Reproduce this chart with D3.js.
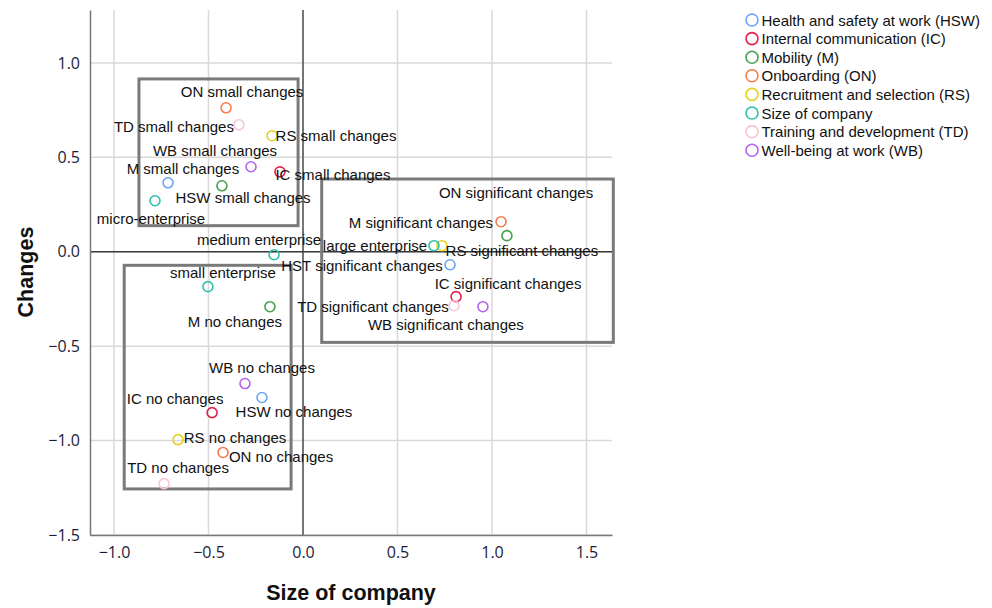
<!DOCTYPE html>
<html lang="en">
<head>
<meta charset="UTF-8">
<title>Size of company vs Changes</title>
<script src="https://d3js.org/d3.v7.min.js"></script>
<style>
  body { margin: 0; background: #fff; }
</style>
</head>
<body>
<svg id="chart"></svg>
<script>
// groups (legend order)
var groups = ["Health and safety at work (HSW)", "Internal communication (IC)", "Mobility (M)",
  "Onboarding (ON)", "Recruitment and selection (RS)", "Size of company",
  "Training and development (TD)", "Well-being at work (WB)"];
var groupColors = ["#6aa5f2", "#e4224c", "#45a04e", "#f47c4a", "#e6d21c", "#2dc0ad", "#f8c4da", "#b562f2"];

// points
var pointNames = [
  "HSW small changes", "HST significant changes", "HSW no changes",
  "IC small changes", "IC significant changes", "IC no changes",
  "M small changes", "M significant changes", "M no changes",
  "ON small changes", "ON significant changes", "ON no changes",
  "RS small changes", "RS significant changes", "RS no changes",
  "micro-enterprise", "small enterprise", "medium enterprise", "large enterprise",
  "TD small changes", "TD significant changes", "TD no changes",
  "WB small changes", "WB significant changes", "WB no changes"
];
var pointGroup = [0, 0, 0, 1, 1, 1, 2, 2, 2, 3, 3, 3, 4, 4, 4, 5, 5, 5, 5, 6, 6, 6, 7, 7, 7];
var sizeValues = [
  -0.714, 0.778, -0.217,
  -0.122, 0.810, -0.481,
  -0.429, 1.079, -0.175,
  -0.407, 1.048, -0.423,
  -0.164, 0.735, -0.661,
  -0.783, -0.503, -0.153, 0.693,
  -0.339, 0.799, -0.735,
  -0.275, 0.952, -0.307
];
var changeValues = [
  0.365, -0.069, -0.772,
  0.423, -0.238, -0.852,
  0.349, 0.085, -0.291,
  0.762, 0.159, -1.063,
  0.614, 0.032, -0.995,
  0.270, -0.185, -0.016, 0.032,
  0.672, -0.286, -1.228,
  0.450, -0.291, -0.698
];
// label offsets from the point (px), label centred
var labelDx = [75, -88, 32, 53, 52, -37, -39, -86, -35, 16, 15, 58, 64, 80, 57, -4, 15, -15, -59, -65, -81, 14, -36, -37, 17];
var labelDy = [15, 1, 14, 3, -13, -14, -17, -13, 15, -16, -29, 4, 0, 5, -2, 18, -14, -15, 0, 2, 1, -16, -16, 18, -16];

// annotation boxes [x1, x2, y1, y2] in data units
var boxes = [
  [-0.868, -0.026, 0.915, 0.138],
  [0.099, 1.642, 0.385, -0.480],
  [-0.946, -0.063, -0.072, -1.256]
];

var xTicks = [-1.0, -0.5, 0.0, 0.5, 1.0, 1.5];
var yTicks = [-1.5, -1.0, -0.5, 0.0, 0.5, 1.0];

var W = 992, H = 608;
var svg = d3.select("#chart").attr("width", W).attr("height", H);

var x = d3.scaleLinear().domain([-1.127, 1.635]).range([90, 612]);
var y = d3.scaleLinear().domain([-1.5, 1.28]).range([535, 10]);

var fmt = function (v) { return d3.format(".1f")(v).replace("-", "\u2212"); };

// grid
svg.append("g").selectAll("line").data(xTicks).enter().append("line")
  .attr("x1", function (d) { return x(d); }).attr("x2", function (d) { return x(d); })
  .attr("y1", y.range()[1]).attr("y2", y.range()[0])
  .attr("stroke", "#d9d9d9").attr("stroke-width", 1.5);
svg.append("g").selectAll("line").data(yTicks).enter().append("line")
  .attr("x1", x.range()[0]).attr("x2", x.range()[1])
  .attr("y1", function (d) { return y(d); }).attr("y2", function (d) { return y(d); })
  .attr("stroke", "#d9d9d9").attr("stroke-width", 1.5);

// reference lines at 0
svg.append("line").attr("x1", x(0)).attr("x2", x(0))
  .attr("y1", y.range()[1]).attr("y2", y.range()[0])
  .attr("stroke", "#3a3a3a").attr("stroke-width", 1.3);
svg.append("line").attr("x1", x.range()[0]).attr("x2", x.range()[1])
  .attr("y1", y(0)).attr("y2", y(0))
  .attr("stroke", "#3a3a3a").attr("stroke-width", 1.3);

// axes
var xAxis = svg.append("g").attr("transform", "translate(0," + y(-1.5) + ")")
  .call(d3.axisBottom(x).tickValues(xTicks).tickFormat(fmt).tickSize(0).tickPadding(12));
var yAxis = svg.append("g").attr("transform", "translate(" + x.range()[0] + ",0)")
  .call(d3.axisLeft(y).tickValues(yTicks).tickFormat(fmt).tickSize(0).tickPadding(10));
[xAxis, yAxis].forEach(function (a) {
  a.select(".domain").attr("stroke", "#777").attr("stroke-width", 1.5);
  a.selectAll("text").attr("font-family", "'Open Sans', sans-serif").attr("font-size", 16)
    .attr("fill", "#1c1c3a");
});

svg.append("text").attr("x", 351).attr("y", 600)
  .attr("text-anchor", "middle").attr("font-family", "'Liberation Sans', Arial, sans-serif")
  .attr("font-weight", "bold").attr("font-size", 21.5).attr("fill", "#111").text("Size of company");
svg.append("text").attr("transform", "translate(33,272) rotate(-90)")
  .attr("text-anchor", "middle").attr("font-family", "'Liberation Sans', Arial, sans-serif")
  .attr("font-weight", "bold").attr("font-size", 21.5).attr("fill", "#111").text("Changes");

// boxes
svg.append("g").selectAll("rect").data(boxes).enter().append("rect")
  .attr("x", function (b) { return x(b[0]); })
  .attr("y", function (b) { return y(b[2]); })
  .attr("width", function (b) { return x(b[1]) - x(b[0]); })
  .attr("height", function (b) { return y(b[3]) - y(b[2]); })
  .attr("fill", "none").attr("stroke", "#7a7a7a").attr("stroke-width", 3);

// points
var idx = d3.range(pointNames.length);
svg.append("g").selectAll("circle").data(idx).enter().append("circle")
  .attr("cx", function (i) { return x(sizeValues[i]); })
  .attr("cy", function (i) { return y(changeValues[i]); })
  .attr("r", 5)
  .attr("fill", "none")
  .attr("stroke", function (i) { return groupColors[pointGroup[i]]; })
  .attr("stroke-width", 1.6);

svg.append("g").selectAll("text").data(idx).enter().append("text")
  .attr("x", function (i) { return x(sizeValues[i]) + labelDx[i]; })
  .attr("y", function (i) { return y(changeValues[i]) + labelDy[i]; })
  .attr("text-anchor", "middle").attr("dominant-baseline", "central")
  .attr("font-family", "'Liberation Sans', Arial, sans-serif").attr("font-size", 15)
  .attr("fill", "#111")
  .text(function (i) { return pointNames[i]; });

// legend
var legend = svg.append("g").attr("transform", "translate(752,20)");
var rows = legend.selectAll("g").data(groups).enter().append("g")
  .attr("transform", function (d, i) { return "translate(0," + i * 18.6 + ")"; });
rows.append("circle").attr("r", 6).attr("fill", "none")
  .attr("stroke", function (d, i) { return groupColors[i]; }).attr("stroke-width", 1.6);
rows.append("text").attr("x", 9.5).attr("dominant-baseline", "central")
  .attr("font-family", "'Liberation Sans', Arial, sans-serif").attr("font-size", 15)
  .attr("fill", "#111").text(function (d) { return d; });
</script>
</body>
</html>
